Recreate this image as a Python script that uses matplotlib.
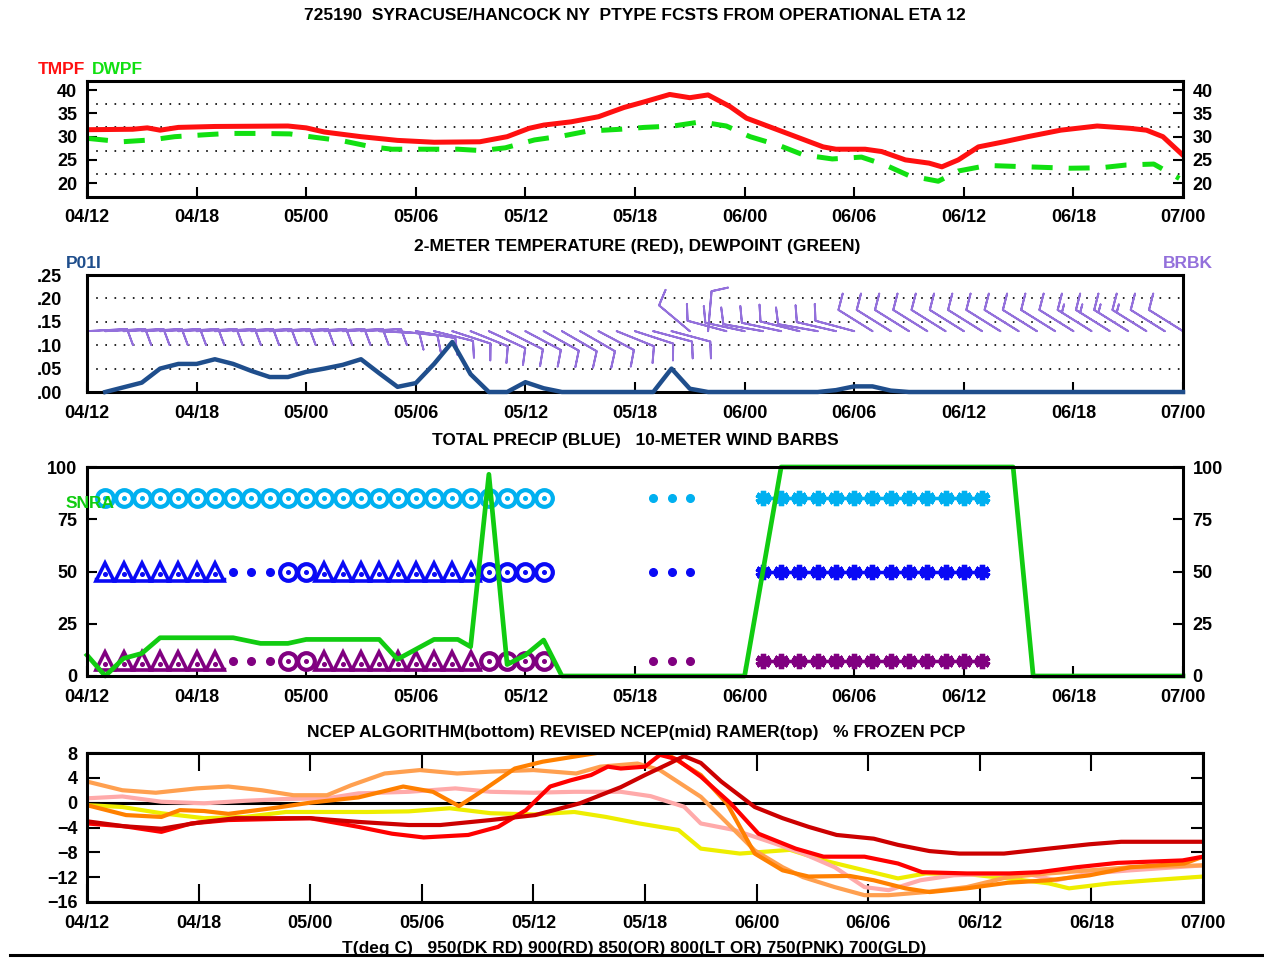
import numpy as np
import matplotlib
matplotlib.use('Agg')
import matplotlib.pyplot as plt

plt.rcParams['font.family'] = ['Liberation Sans Narrow', 'Liberation Sans', 'DejaVu Sans']
plt.rcParams['font.weight'] = 'bold'

# ---------------- data ----------------
x_ticks = [0, 6, 12, 18, 24, 30, 36, 42, 48, 54, 60]
x_labels = ['04/12', '04/18', '05/00', '05/06', '05/12', '05/18', '06/00',
            '06/06', '06/12', '06/18', '07/00']

tmpf_hr = [0, 2.5, 3.3, 4, 5, 7, 11, 12, 13, 15, 17, 19, 21.5, 23, 24.2, 25, 26.5, 28,
           29.4, 30.5, 31.9, 33, 34, 35.2, 36.1, 38, 40.3, 41, 42.6, 43.5, 44.8, 46.1,
           46.8, 47.7, 48.8, 50.2, 51.5, 53.3, 55.3, 57.1, 58, 58.9, 60]
tmpf = [31.5, 31.6, 31.9, 31.4, 32.0, 32.2, 32.3, 31.9, 31.0, 30.0, 29.2, 28.8, 28.9,
        30.0, 31.8, 32.5, 33.2, 34.3, 36.3, 37.5, 39.1, 38.4, 39.0, 36.5, 34.0, 31.2,
        27.8, 27.3, 27.3, 26.8, 25.0, 24.3, 23.5, 25.0, 27.8, 28.9, 30.0, 31.4, 32.3,
        31.8, 31.4, 30.0, 26.0]

dwpf_hr = [0, 1.9, 3.5, 4.8, 6.4, 7.75, 9.5, 11.1, 12.4, 14.0, 15.6, 16.7, 18.7, 20.3,
           21.6, 22.9, 24.5, 26.1, 27.4, 29.2, 30.5, 32.1, 33.6, 35.0, 36.3, 37.9, 39.2,
           40.8, 42.4, 43.7, 45.0, 46.6, 47.7, 49.3, 51.5, 53.8, 55.5, 56.9, 58.4, 59.8]
dwpf = [29.65, 28.9, 29.3, 30.0, 30.4, 30.7, 30.7, 30.6, 29.9, 29.1, 27.8, 27.3, 27.3,
        27.3, 27.0, 27.6, 29.3, 30.2, 31.2, 31.6, 32.0, 32.3, 33.2, 32.3, 30.0, 28.1,
        26.1, 25.2, 25.6, 23.9, 21.6, 20.4, 22.6, 23.8, 23.5, 23.2, 23.3, 23.9, 24.1,
        21.0]

p01i_hr = list(range(1, 61))
p01i = [0, .01, .02, .05, .06, .06, .07, .06, .045, .032, .032, .043, .05, .058, .07,
        .04, .011, .019, .06, .107, .038, 0, 0, .021, .008, 0, 0, 0, 0, 0,
        0, .05, .007, 0, 0, 0, 0, 0, 0, 0, .004, .012, .012, .003, 0, 0, 0, 0, 0, 0,
        0, 0, 0, 0, 0, 0, 0, 0, 0, 0]

wind_hr = list(range(0, 61))
wind_dir = [87] * 16 + [93, 96, 100, 104, 108, 112, 115, 117, 118, 119, 120, 120, 118,
                        112, 108, 105, 105, 310, 5, 285, 282, 280, 282, 284, 280,
                        283, 285] + [302] * 18
wind_spd = [10] * 55 + [15, 15, 15, 15, 10, 10]

frz_hr = [0, 1, 2, 3, 4, 8, 9.5, 11, 12, 16, 17, 19, 20.3, 21, 22, 23, 24, 25, 26, 36,
          38, 50.7, 51.8, 60]
frz_pct = [10, 0, 8.4, 10.8, 18.3, 18.3, 15.6, 15.6, 17.5, 17.5, 8, 17.5, 17.5, 14,
           96.5, 5.5, 10, 17.2, 0, 0, 100, 100, 0, 0]

# precip-type hours per algorithm row
ramer_fzra = list(range(1, 26))
ramer_ra = [31, 32, 33]
ramer_sn = list(range(37, 50))
ramer_pl = []
ncep_pl = list(range(1, 8)) + list(range(13, 22))
ncep_ra = [8, 9, 10, 31, 32, 33]
ncep_fzra = [11, 12, 22, 23, 24, 25]
ncep_sn = list(range(37, 50))
rev_pl = list(range(1, 8)) + list(range(13, 22))
rev_ra = [8, 9, 10, 31, 32, 33]
rev_fzra = [11, 12, 22, 23, 24, 25]
rev_sn = list(range(37, 50))

t950_hr = [0, 2, 4, 6, 8, 12, 14.6, 17.3, 19, 21.7, 24.1, 26.5, 28.7, 30, 31.3, 32.1, 33,
           34.1, 35.9, 37.4, 38.8, 40.3, 42.3, 43.6, 45.3, 46.9, 49.3, 51.7, 53.9, 55.6, 60]
t950 = [-3.0, -3.8, -4.2, -3.2, -2.5, -2.5, -3.1, -3.6, -3.6, -2.8, -2.0, -0.1, 2.5, 4.45,
        6.3, 7.5, 6.4, 3.4, -0.7, -2.5, -3.9, -5.2, -5.8, -6.8, -7.8, -8.2, -8.2, -7.4,
        -6.7, -6.3, -6.3]
t900_hr = [0, 2, 4, 5.6, 7.6, 12, 14.6, 16.4, 18.1, 20.5, 22.1, 23.6, 24.9, 26, 27.1, 28,
           28.7, 30, 30.8, 31.7, 33, 34.6, 36.1, 38.1, 39.6, 41.8, 43.6, 44.9, 47.3, 49.6,
           51.2, 53.2, 55.4, 58.9, 60]
t900 = [-3.35, -3.8, -4.7, -3.35, -2.8, -2.5, -3.9, -5.0, -5.6, -5.2, -3.9, -1.2, 2.6,
        3.6, 4.45, 5.8, 5.5, 5.8, 7.7, 7.0, 4.2, -0.1, -5.0, -7.4, -8.7, -8.7, -9.8,
        -11.2, -11.4, -11.4, -11.2, -10.4, -9.7, -9.3, -8.7]
t850_hr = [0, 2.1, 4, 5, 6.3, 7.6, 10.2, 12, 14.6, 17, 18.6, 20, 21.2, 23, 24.5, 27.4, 29,
           31.1, 33, 34.4, 35.9, 37.4, 38.8, 41, 42.3, 44, 45.3, 47.3, 49.5, 51.7, 53.9,
           56.1, 59, 60]
t850 = [-0.4, -2.0, -2.3, -1.2, -1.35, -1.8, -0.8, 0, 0.85, 2.6, 1.75, -0.55, 1.8, 5.5,
        6.6, 8.0, 8.8, 8.0, 4.45, -0.1, -8.2, -10.9, -11.9, -11.8, -12.5, -13.8, -14.4,
        -13.8, -12.9, -12.5, -11.7, -10.4, -9.8, -8.7]
t800_hr = [0, 1.9, 3.7, 5.9, 7.6, 9.4, 11.1, 12.9, 14.2, 16, 17.9, 19.9, 21.7, 24, 26.3,
           27.6, 29.6, 30.8, 33, 35.9, 37.4, 38.5, 40.2, 41.8, 43.1, 45.1, 47.3, 49.5,
           51.7, 53.9, 56.1, 60]
t800 = [3.4, 2.0, 1.6, 2.3, 2.6, 2.0, 1.2, 1.2, 2.8, 4.7, 5.25, 4.7, 5.0, 5.25, 4.7, 5.8,
        6.3, 5.25, 0.95, -7.7, -10.4, -12.0, -13.6, -14.9, -14.9, -14.4, -13.6, -12.0,
        -11.4, -10.9, -10.4, -10.1]
t750_hr = [0, 1.9, 4, 6.3, 8.5, 10.7, 12.9, 14.6, 17.3, 19.8, 21.7, 24, 26.2, 28.7, 30.3,
           32.1, 33, 34.8, 37, 38.5, 40.2, 41.8, 43.1, 44.8, 46.6, 48.4, 50.6, 52.1, 53.9,
           56.1, 60]
t750 = [0.7, 1.0, 0.15, -0.1, 0.3, 0.6, 0.7, 1.5, 1.75, 2.3, 1.75, 1.6, 1.75, 1.75, 1.05,
        -0.65, -3.35, -4.4, -6.6, -8.2, -10.4, -13.6, -14.1, -12.5, -11.7, -11.5, -11.5,
        -12.5, -11.4, -10.9, -10.1]
t700_hr = [0, 1.9, 4, 6.3, 8.5, 10.7, 12.9, 15.1, 17.3, 19.5, 21.7, 24, 26.2, 27.9, 29.7,
           31.8, 33, 35.1, 37.8, 39.6, 41.8, 43.6, 45.1, 47.3, 49.5, 51.7, 52.8, 55, 57.2,
           60]
t700 = [-0.4, -0.7, -1.7, -2.5, -2.3, -1.5, -1.5, -1.5, -1.4, -0.9, -1.7, -1.9, -1.5,
        -2.3, -3.35, -4.4, -7.4, -8.2, -7.6, -9.3, -10.9, -12.2, -11.4, -11.5, -12.2,
        -13.0, -13.8, -13.0, -12.5, -11.9]

# ---------------- figure ----------------
W, H = 1264, 958
fig = plt.figure(figsize=(W / 100, H / 100), dpi=100)


def ax_at(l, t, r, b):
    return fig.add_axes([l / W, 1 - b / H, (r - l) / W, (b - t) / H])


def px(x, y):
    return x / W, 1 - y / H


TFS = 13
FRAME = 2.2


def frame(ax):
    for s in ax.spines.values():
        s.set_linewidth(FRAME)
        s.set_zorder(10)


def xaxis(ax, length=7, top=False):
    ax.set_xlim(0, 60)
    ax.set_xticks(x_ticks)
    ax.set_xticklabels(x_labels)
    ax.tick_params(axis='x', direction='in', length=length, width=1.5, labelsize=TFS,
                   pad=9, top=top, bottom=True)


def dotted(ax, ys):
    for y in ys:
        ax.axhline(y, color='black', lw=1.2, ls=(0, (1, 4.5)), zorder=1)


# ---- panel 1
ax1 = ax_at(87, 81, 1183, 197)
ax1.set_ylim(17, 42)
dotted(ax1, [22, 27, 32, 37])
ax1.plot(tmpf_hr, tmpf, color='#ff1010', lw=3.6, zorder=4)
ax1.plot(dwpf_hr, dwpf, color='#11e011', lw=3.6, dashes=(4.2, 3.2), zorder=3)
xaxis(ax1)
ax1.set_yticks([20, 25, 30, 35, 40])
ax1.tick_params(axis='y', direction='in', length=7, width=1.5, left=True, right=True,
                labelleft=True, labelright=True, labelsize=TFS, pad=7)
frame(ax1)

# ---- panel 2
ax2 = ax_at(87, 275, 1183, 392)
ax2.set_ylim(0, 0.25)
dotted(ax2, [0.05, 0.10, 0.15, 0.20])
wd = np.radians(wind_dir)
ws = np.array(wind_spd, dtype=float)
u = -ws * np.sin(wd)
v = -ws * np.cos(wd)
ax2.barbs(wind_hr, np.full(len(wind_hr), 0.13), u, v, length=7.6, color='#9370db',
          linewidth=1.4, clip_on=False, zorder=3)
ax2.plot(p01i_hr, p01i, color='#1f4e8c', lw=3.2, zorder=12, clip_on=False)
xaxis(ax2)
ax2.set_yticks([0, .05, .10, .15, .20, .25])
ax2.set_yticklabels(['.00', '.05', '.10', '.15', '.20', '.25'])
ax2.tick_params(axis='y', length=0, labelsize=TFS, pad=18)
frame(ax2)

# ---- panel 3
ax3 = ax_at(87, 467, 1183, 676)
ax3.set_ylim(0, 100)


def runs(hrs):
    if len(hrs) == 0:
        return []
    a = np.array(hrs)
    return np.split(a, np.where(np.diff(a) > 1)[0] + 1)


def draw_row(ax, y, col, pl, ra, fzra, sn):
    for g in runs(pl):
        ax.plot([g[0] - 0.5, g[-1] + 0.5], [y - 3.6, y - 3.6], color=col, lw=2.5, zorder=4)
        ax.plot(g, [y] * len(g), ls='none', marker='^', ms=13, mfc='white', mec=col,
                mew=2.6, zorder=5)
        ax.plot(g, [y - 1.2] * len(g), ls='none', marker='o', ms=2.6, color=col, zorder=6)
    if len(ra):
        ax.plot(ra, [y] * len(ra), ls='none', marker='o', ms=5.5, color=col, zorder=5)
    for g in runs(fzra):
        ax.plot([g[0] - 0.45, g[-1] + 0.45], [y, y], color=col, lw=2.5, zorder=4)
        ax.plot(g, [y] * len(g), ls='none', marker='o', ms=12, mfc='white', mec=col,
                mew=3.0, zorder=5)
        ax.plot(g, [y] * len(g), ls='none', marker='o', ms=2.6, color=col, zorder=6)
    for g in runs(sn):
        ax.plot([g[0], g[-1]], [y, y], color=col, lw=2.5, zorder=4)
        ax.plot(g, [y] * len(g), ls='none', marker=(6, 2, 0), ms=11, mec=col, mew=3.8,
                zorder=5)


draw_row(ax3, 85, '#00b0f0', ramer_pl, ramer_ra, ramer_fzra, ramer_sn)
draw_row(ax3, 50, '#0a0af5', ncep_pl, ncep_ra, ncep_fzra, ncep_sn)
draw_row(ax3, 7, '#800080', rev_pl, rev_ra, rev_fzra, rev_sn)
ax3.plot(frz_hr, frz_pct, color='#11cc11', lw=3.4, zorder=8, clip_on=False)
xaxis(ax3)
ax3.set_yticks([0, 25, 50, 75, 100])
ax3.tick_params(axis='y', direction='in', length=7, width=1.5, left=True, right=True,
                labelleft=True, labelright=True, labelsize=TFS, pad=7)
frame(ax3)

# ---- panel 4
ax4 = ax_at(87, 753, 1203, 902)
ax4.set_ylim(-16, 8)
ax4.axhline(0, color='black', lw=2.2, zorder=2)
for hrs, vals, col in [(t700_hr, t700, '#eeee00'), (t750_hr, t750, '#ffaaaa'),
                       (t800_hr, t800, '#ffa050'), (t850_hr, t850, '#ff8000'),
                       (t900_hr, t900, '#ff0000'), (t950_hr, t950, '#cc0000')]:
    ax4.plot(hrs, vals, color=col, lw=3.0, zorder=3)
xaxis(ax4, length=13, top=True)
ax4.set_yticks([-16, -12, -8, -4, 0, 4, 8])
ax4.tick_params(axis='y', direction='in', length=9, width=1.5, left=True, right=True,
                labelleft=True, labelright=False, labelsize=TFS, pad=7)
frame(ax4)

# ---------------- texts ----------------
fig.text(*px(635, 15), '725190  SYRACUSE/HANCOCK NY  PTYPE FCSTS FROM OPERATIONAL ETA 12',
         ha='center', va='center', fontsize=12.5)
fig.text(*px(38, 69), 'TMPF', color='#ff1010', ha='left', va='center', fontsize=12.5)
fig.text(*px(92, 69), 'DWPF', color='#11e011', ha='left', va='center', fontsize=12.5)
fig.text(*px(637, 246), '2-METER TEMPERATURE (RED), DEWPOINT (GREEN)', ha='center',
         va='center', fontsize=12.5)
fig.text(*px(66, 264), 'P01I', color='#1f4e8c', ha='left', va='center', fontsize=12.5)
fig.text(*px(1163, 264), 'BRBK', color='#9370db', ha='left', va='center', fontsize=12.5)
fig.text(*px(635, 441), 'TOTAL PRECIP (BLUE)   10-METER WIND BARBS', ha='center',
         va='center', fontsize=12.5)
fig.text(*px(66, 503), 'SNRA', color='#11cc11', ha='left', va='center', fontsize=12.5)
fig.text(*px(636, 732),
         'NCEP ALGORITHM(bottom) REVISED NCEP(mid) RAMER(top)   % FROZEN PCP',
         ha='center', va='center', fontsize=12.5)
fig.text(*px(634, 948),
         'T(deg C)   950(DK RD) 900(RD) 850(OR) 800(LT OR) 750(PNK) 700(GLD)',
         ha='center', va='center', fontsize=12.5)
fig.add_artist(plt.Line2D([10 / W, 1.0], [1 - 955 / H, 1 - 955 / H], color='black',
                          lw=2.2, transform=fig.transFigure))

fig.savefig('out.png', dpi=100)
